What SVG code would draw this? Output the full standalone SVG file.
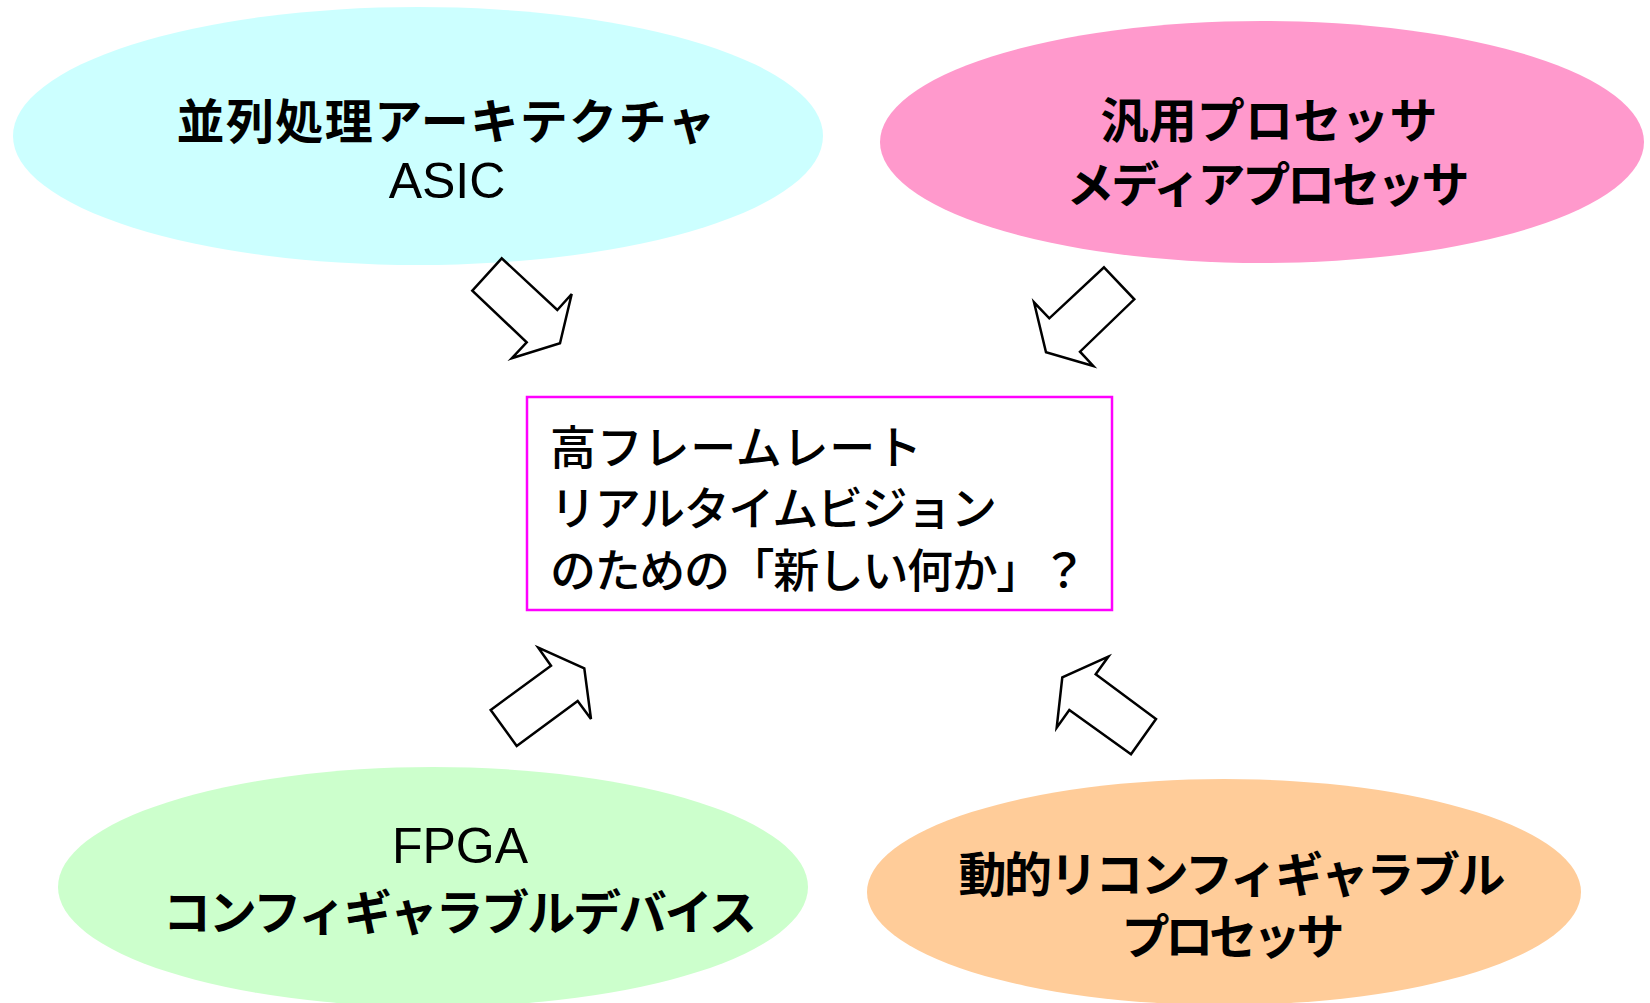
<svg xmlns="http://www.w3.org/2000/svg" width="1650" height="1003" viewBox="0 0 1650 1003">
<style>
.t{font-family:"Liberation Sans","Noto Sans CJK JP",sans-serif;fill:#000;}
.b{font-weight:bold;font-size:48px;text-anchor:middle;}
.r{font-size:50px;text-anchor:middle;}
.c{font-family:"Noto Sans CJK JP",sans-serif;font-size:46px;font-weight:500;}
.arrow{fill:#fff;stroke:#000;stroke-width:2.5;stroke-linejoin:miter;}
</style>
<rect width="1650" height="1003" fill="#fff"/>
<g id="node-parallel">
<ellipse cx="418" cy="136" rx="405" ry="129" fill="#CCFFFF"/>
<text class="t b" x="446" y="139" textLength="539" lengthAdjust="spacing">並列処理アーキテクチャ</text>
<text class="t r" x="447" y="198">ASIC</text>
</g>
<g id="node-processor">
<ellipse cx="1262" cy="142" rx="382" ry="121" fill="#FF99CC"/>
<text class="t b" x="1269" y="138" textLength="337" lengthAdjust="spacing">汎用プロセッサ</text>
<text class="t b" x="1268" y="202" textLength="403" lengthAdjust="spacing">メディアプロセッサ</text>
</g>
<g id="node-fpga">
<ellipse cx="433" cy="887" rx="375" ry="120" fill="#CCFFCC"/>
<text class="t r" x="460" y="863">FPGA</text>
<text class="t b" x="460" y="930" textLength="594" lengthAdjust="spacing">コンフィギャラブルデバイス</text>
</g>
<g id="node-dynamic">
<ellipse cx="1224" cy="892" rx="357" ry="113" fill="#FFCC99"/>
<text class="t b" x="1232" y="892" textLength="547" lengthAdjust="spacing">動的リコンフィギャラブル</text>
<text class="t b" x="1233" y="954" textLength="223" lengthAdjust="spacing">プロセッサ</text>
</g>
<g id="node-center">
<rect x="527" y="397" width="585" height="213" fill="#fff" stroke="#FF00FF" stroke-width="2.5"/>
<text class="c" x="550" y="464" textLength="372" lengthAdjust="spacing">高フレームレート</text>
<text class="c" x="550" y="525" textLength="447" lengthAdjust="spacing">リアルタイムビジョン</text>
<text class="c" x="550" y="587" textLength="537" lengthAdjust="spacing">のための「新しい何か」？</text>
</g>
<g id="connectors">
<polygon class="arrow" points="501.7,258.3 472.3,290.7 526.7,342.3 511.7,358.3 560,343.3 571.7,294 557.3,310"/>
<polygon class="arrow" points="1104,267.3 1134.3,299.3 1080,351.7 1093.3,366 1046,352.3 1034,302.3 1049.3,318.3"/>
<polygon class="arrow" points="538.3,647.7 584.3,668.3 591,719 577.7,701 516.7,746 490.7,710 551,665.7"/>
<polygon class="arrow" points="1108.3,656.7 1062.3,677.3 1056.7,727.7 1069.3,710 1131,754.3 1156,719 1095.7,674.3"/>
</g>
</svg>
